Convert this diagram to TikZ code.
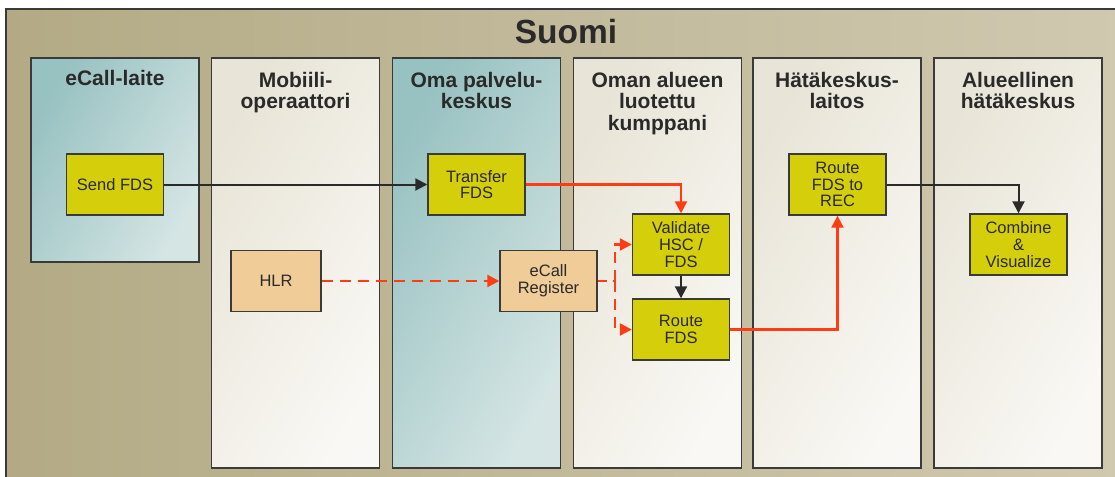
\documentclass[tikz,border=0pt]{standalone}
\usepackage{fontspec}
\setmainfont{Liberation Sans}
\usetikzlibrary{arrows.meta}
\definecolor{bgA}{HTML}{B3AA85}
\definecolor{bgB}{HTML}{D0C9B0}
\definecolor{whA}{HTML}{E8E4D7}
\definecolor{whB}{HTML}{F9F8F4}
\definecolor{teA}{HTML}{98C1C1}
\definecolor{teB}{HTML}{D4E5E4}
\definecolor{edge}{HTML}{3A3A3A}
\definecolor{txt}{HTML}{2A2A2A}
\definecolor{boxY}{HTML}{D4CF0A}
\definecolor{boxO}{HTML}{F0CC98}
\definecolor{arrred}{HTML}{FF3C14}
\tikzset{
  lanew/.style={draw=edge, line width=1.6pt, left color=whA, right color=whB, shading angle=60,
    minimum width=168pt, inner sep=0pt},
  lanet/.style={draw=edge, line width=1.6pt, left color=teA, right color=teB, shading angle=60,
    minimum width=168pt, inner sep=0pt},
  title/.style={font=\fontsize{21}{21.5}\selectfont\bfseries, text=txt, align=center, anchor=north, inner sep=0pt},
  ybox/.style={draw=edge, line width=1.4pt, fill=boxY, minimum width=97pt, minimum height=61pt,
    font=\fontsize{16.5}{16.7}\selectfont, text=txt, align=center, inner sep=0pt},
  obox/.style={ybox, fill=boxO},
  blk/.style={draw=txt, line width=2pt, -{Triangle[length=12pt,width=12pt]}},
  rd/.style={draw=arrred, line width=2.2pt, -{Triangle[length=12pt,width=12pt]}},
  rdd/.style={rd, dash pattern=on 11pt off 7pt},
}
\begin{document}
\begin{tikzpicture}[x=1pt,y=-1pt]
\useasboundingbox (0,0) rectangle (1115,476);
\begin{scope}
\clip (0,0) rectangle (1115,476);
\draw[draw=edge, line width=1.6pt, left color=bgA, right color=bgB, shading angle=90] (6,9) rectangle (1125,486);
\end{scope}
\node[font=\fontsize{33.5}{35}\selectfont\bfseries, text=txt, inner sep=0pt] (T) at (566,32) {Suomi};
% lanes
\node[lanet, minimum height=204pt] (L1) at (115,160) {};
\node[lanew, minimum height=410pt] (L2) at (295.5,263) {};
\node[lanet, minimum height=410pt] (L3) at (476.5,263) {};
\node[lanew, minimum height=410pt] (L4) at (657.5,263) {};
\node[lanew, minimum height=410pt] (L5) at (837,263) {};
\node[lanew, minimum height=410pt] (L6) at (1018,263) {};
% titles
\node[title] (t1) at (115,70) {eCall-laite};
\node[title] (t2) at (295.5,72) {Mobiili-\\operaattori};
\node[title] (t3) at (476.5,72) {Oma palvelu-\\keskus};
\node[title] (t4) at (657.5,72) {Oman alueen\\luotettu\\kumppani};
\node[title] (t5) at (837,72) {Hätäkeskus-\\laitos};
\node[title] (t6) at (1018,72) {Alueellinen\\hätäkeskus};
% boxes
\node[ybox] (send) at (115,184.5) {Send FDS};
\node[ybox] (transfer) at (476.5,184.5) {Transfer\\FDS};
\node[obox, minimum width=90pt] (hlr) at (276,281) {HLR};
\node[obox] (reg) at (548.5,281) {eCall\\Register};
\node[ybox] (val) at (681,244.5) {Validate\\HSC /\\FDS};
\node[ybox] (route) at (681,329.5) {Route\\FDS};
\node[ybox] (rrec) at (837.5,184.5) {Route\\FDS to\\REC};
\node[ybox] (comb) at (1018.5,244.5) {Combine\\\&\\Visualize};
\coordinate (j) at (615,281);
% connectors
\draw[blk] (send.east) -- (transfer.west);
\draw[rd] (transfer.east) -| (val.north);
\draw[rdd] (hlr.east) -- (reg.west);
\draw[draw=arrred, line width=2.2pt, dash pattern=on 9pt off 6pt] (reg.east) -- (j);
\draw[rdd] (j) |- (val.west);
\draw[rdd] (j) |- (route.west);
\draw[blk] (val.south) -- (route.north);
\draw[rd] (route.east) -| (rrec.south);
\draw[blk] (rrec.east) -| (comb.north);
\end{tikzpicture}
\end{document}
